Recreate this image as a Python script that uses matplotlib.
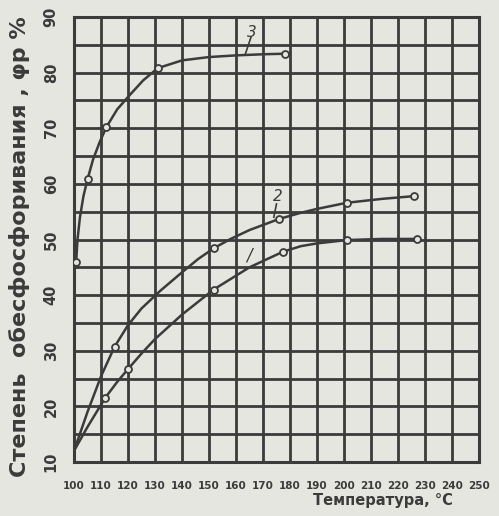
import numpy as np
import matplotlib
matplotlib.use("Agg")
import matplotlib.pyplot as plt

# curve traces (temperature, degree of dephosphorization)
c3_t = [100.8, 101.3, 102.2, 103.5, 105, 107, 109.5, 112, 116, 120.7, 125.6, 131, 140, 150, 160, 170, 178]
c3_v = [46, 50, 54, 57.8, 60.8, 64.3, 67.5, 70.2, 73.4, 76, 78.6, 80.8, 82.2, 82.8, 83.1, 83.3, 83.4]
c3_pts_t = [100.8, 105, 112, 131, 178]
c3_pts_v = [46, 60.8, 70.2, 80.8, 83.4]

c2_t = [100, 105, 110, 115, 120, 125, 132, 140, 146, 152, 158, 165, 176, 184, 190, 201, 214, 226]
c2_v = [12, 19, 25.4, 30.7, 34.6, 37.6, 40.8, 44.1, 46.5, 48.5, 50.1, 51.7, 53.7, 54.8, 55.5, 56.6, 57.3, 57.8]
c2_pts_t = [115, 152, 176, 201, 226]
c2_pts_v = [30.7, 48.5, 53.7, 56.6, 57.8]

c1_t = [100, 105, 111.5, 116, 120, 125, 130, 140, 151.7, 165, 177.4, 184, 190, 201, 214, 227]
c1_v = [12, 16.3, 21.5, 24.4, 26.7, 29.5, 32.1, 36.5, 41, 45, 47.8, 48.8, 49.3, 49.9, 50.1, 50.1]
c1_pts_t = [111.5, 120, 151.7, 177.4, 201, 227]
c1_pts_v = [21.5, 26.7, 41, 47.8, 49.9, 50.1]

x_ticks = list(range(100, 251, 10))
y_ticks = list(range(10, 91, 10))

bg = '#e6e6e0'
ink = '#3b3b3b'

plt.rcParams['font.family'] = ['DejaVu Sans']

fig = plt.figure(figsize=(4.99, 5.16), dpi=100, facecolor=bg)
ax = fig.add_axes([74/499, 1-462/516, (479-74)/499, (462-17)/516])
ax.set_facecolor(bg)

ax.set_xlim(100, 250)
ax.set_ylim(10, 90)
ax.set_xticks(x_ticks)
ax.set_yticks(y_ticks)
ax.set_yticks(np.arange(15, 90, 10), minor=True)
ax.grid(True, which='both', color=ink, linewidth=2.0)
ax.set_axisbelow(True)
for s in ax.spines.values():
    s.set_color(ink)
    s.set_linewidth(2.2)
ax.tick_params(which='both', length=0)
ax.tick_params(axis='x', pad=14, labelsize=7.5, colors=ink)
ax.tick_params(axis='y', pad=11, labelsize=10.5, colors=ink)
for lab in ax.get_xticklabels():
    lab.set_fontweight('bold')
for lab in ax.get_yticklabels():
    lab.set_fontweight('bold')
    lab.set_rotation(90)
    lab.set_va('center')

for t, v, pt, pv in [(c3_t, c3_v, c3_pts_t, c3_pts_v),
                     (c2_t, c2_v, c2_pts_t, c2_pts_v),
                     (c1_t, c1_v, c1_pts_t, c1_pts_v)]:
    ax.plot(t, v, color=ink, linewidth=1.8, zorder=3, solid_joinstyle='round')
    ax.plot(pt, pv, 'o', ms=5, mfc=bg, mec=ink, mew=1.3, zorder=4)

# curve numbers with short leaders
ax.text(166, 87.3, '3', fontsize=11, style='italic', color=ink, ha='center', va='center')
ax.plot([165.5, 163.5], [86.3, 83.4], color=ink, linewidth=1.2)
ax.text(175.5, 57.8, '2', fontsize=11, style='italic', color=ink, ha='center', va='center')
ax.plot([175.0, 174.0], [56.4, 54.0], color=ink, linewidth=1.2)
ax.text(165, 47.2, '/', fontsize=12, style='italic', color=ink, ha='center', va='center')

fig.text(20/499, 0.523, 'Степень  обесфосфоривания , φр %', rotation=90,
         ha='center', va='center', fontsize=16, fontweight='bold', color=ink)
fig.text(383/499, 1-500/516, 'Температура, °С', ha='center', va='center',
         fontsize=10.5, fontweight='bold', color=ink)

fig.savefig('out.png', dpi=100, facecolor=bg)
